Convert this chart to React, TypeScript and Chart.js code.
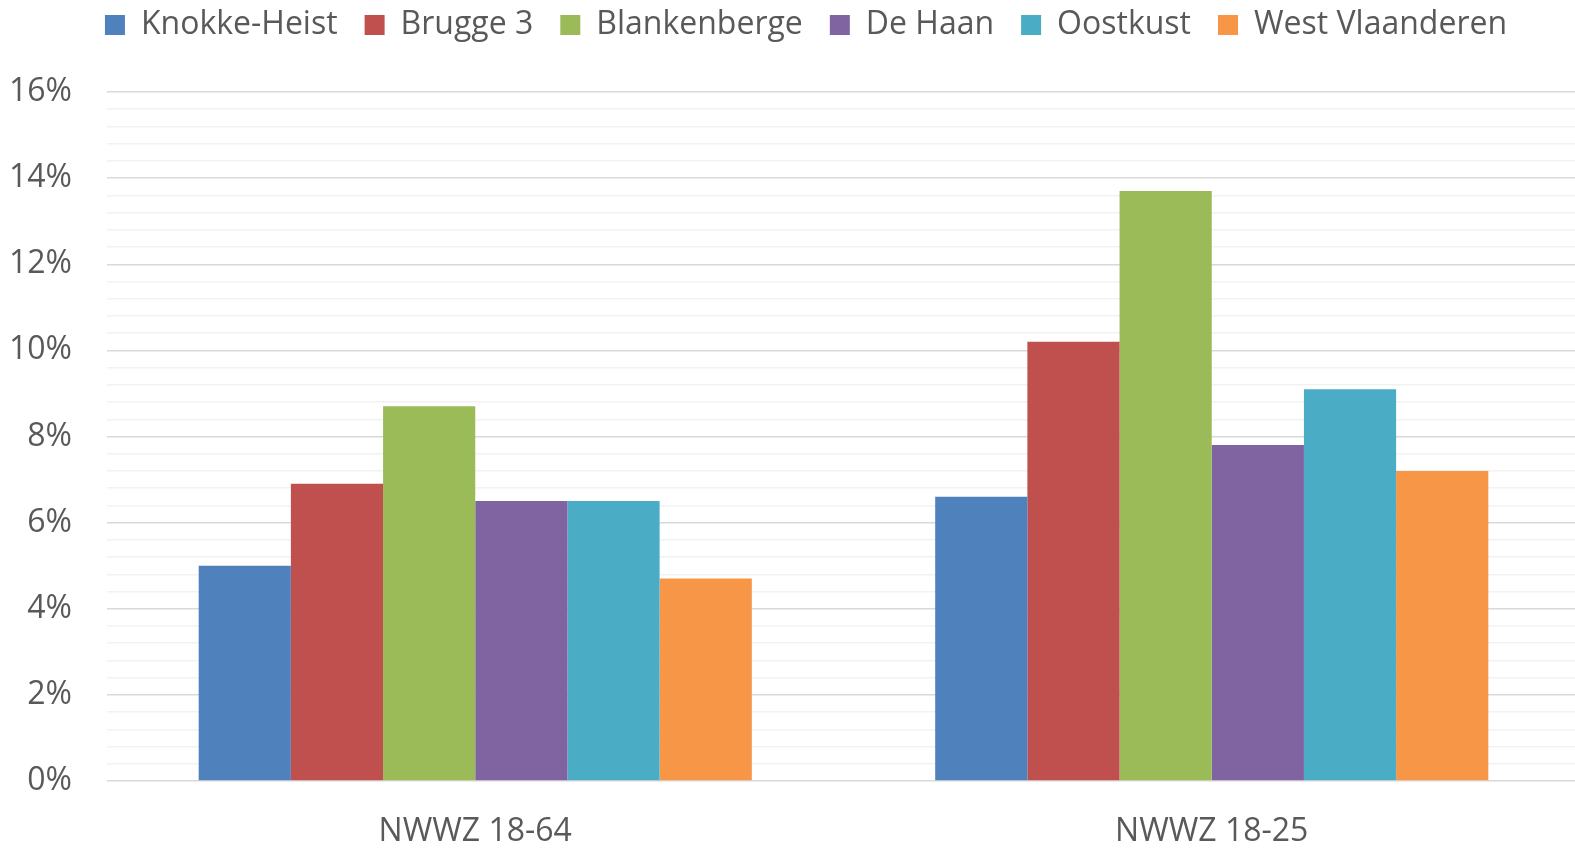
import React, { useEffect, useRef } from "react";
import { Chart, registerables } from "chart.js";

Chart.register(...registerables);

const categories = ["NWWZ 18-64", "NWWZ 18-25"];
const seriesNames = ["Knokke-Heist", "Brugge 3", "Blankenberge", "De Haan", "Oostkust", "West Vlaanderen"];
const knokkeHeist = [5.0, 6.6];
const brugge3 = [6.9, 10.2];
const blankenberge = [8.7, 13.7];
const deHaan = [6.5, 7.8];
const oostkust = [6.5, 9.1];
const westVlaanderen = [4.7, 7.2];
const seriesColors = ["#4f81bd", "#c0504d", "#9bbb59", "#8064a2", "#4bacc6", "#f79646"];

const shiftLegend = {
  id: "shiftLegend",
  afterLayout(chart: any) {
    const l = chart.legend;
    if (l) {
      l.left += 16;
      l.right += 16;
    }
  },
};

export default function App() {
  const ref = useRef<HTMLCanvasElement | null>(null);
  useEffect(() => {
    if (!ref.current) return;
    const values = [knokkeHeist, brugge3, blankenberge, deHaan, oostkust, westVlaanderen];
    const font = { family: "'Open Sans', sans-serif", size: 32 };
    const chart = new Chart(ref.current, {
      type: "bar",
      plugins: [shiftLegend],
      data: {
        labels: categories,
        datasets: seriesNames.map((n, i) => ({
          label: n,
          data: values[i],
          backgroundColor: seriesColors[i],
          borderWidth: 0,
          categoryPercentage: 0.751,
          barPercentage: 1,
        })),
      },
      options: {
        animation: false,
        responsive: true,
        maintainAspectRatio: false,
        layout: { padding: { top: -18, right: 0, bottom: 0, left: 0 } },
        plugins: {
          tooltip: { enabled: false },
          title: {
            display: true,
            text: "",
            weight: 500,
            font: { size: 1, lineHeight: 1 },
            padding: { top: 0, bottom: 40 },
          },
          legend: {
            position: "top",
            weight: 3000,
            labels: {
              boxWidth: 20,
              boxHeight: 20,
              padding: 27,
              color: "#595959",
              font,
            },
          },
        },
        scales: {
          x: {
            grid: { display: false },
            border: { display: false },
            ticks: { color: "#595959", font, padding: 24 },
            afterFit: (s: any) => {
              s.height = 68;
            },
          },
          y: {
            min: 0,
            max: 16,
            border: { display: false },
            grid: {
              drawTicks: false,
              tickLength: 0,
              color: (c: any) => (c.index % 5 === 0 ? "#d9d9d9" : "#f2f2f2"),
              lineWidth: 1.5,
            },
            ticks: {
              stepSize: 0.4,
              autoSkip: false,
              padding: 35,
              color: "#595959",
              font,
              callback: (v: any, i: number) => (i % 5 === 0 ? Math.round(Number(v)) + "%" : ""),
            },
            afterFit: (s: any) => {
              s.width = 107;
            },
          },
        },
      },
    });
    return () => chart.destroy();
  }, []);
  return (
    <div style={{ position: "fixed", left: 0, top: 0, width: "100vw", height: "100vh", overflow: "hidden", background: "#fff" }}>
      <div style={{ position: "absolute", left: 0, top: 0, width: 1580, height: 849 }}>
        <canvas ref={ref} />
      </div>
    </div>
  );
}
